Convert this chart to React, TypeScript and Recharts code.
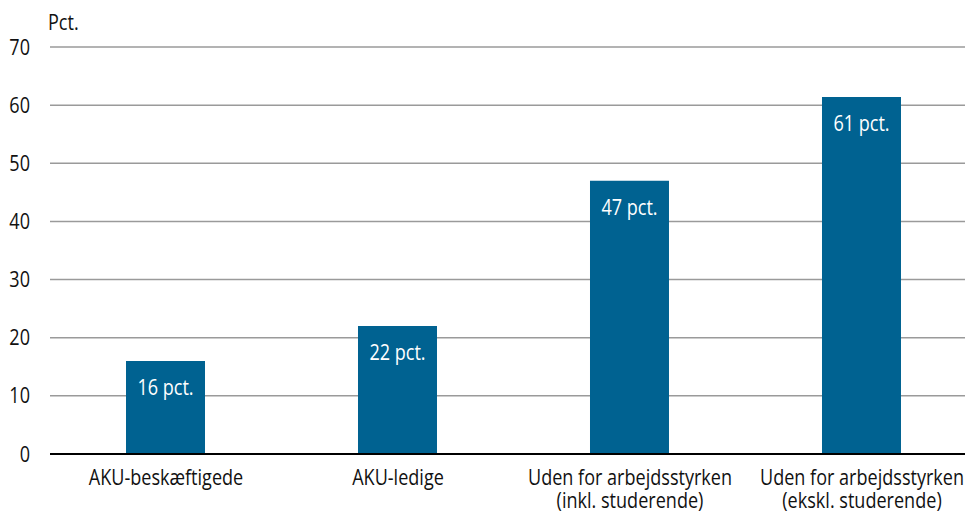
import { BarChart, Bar, XAxis, YAxis, CartesianGrid, LabelList } from 'recharts';

// Categories and values
const categories = [
  ['AKU-beskæftigede'],
  ['AKU-ledige'],
  ['Uden for arbejdsstyrken', '(inkl. studerende)'],
  ['Uden for arbejdsstyrken', '(ekskl. studerende)'],
];
const values = [16, 22, 47, 61.4];
const yTicks = [0, 10, 20, 30, 40, 50, 60, 70];

const FONT = '"Open Sans", sans-serif';
const FONT_SIZE = 21;
// horizontal squeeze so Open Sans looks closer to the narrow original face
const SX = 0.86;
const BAR_COLOR = '#006291';
const TEXT_COLOR = '#111';

const data = values.map((v, i) => ({ idx: i, value: v }));

function Squeezed({ x, y, anchor, fill, children }: any) {
  return (
    <g transform={`translate(${x},${y}) scale(${SX},1)`}>
      <text x={0} y={0} textAnchor={anchor} fontFamily={FONT} fontSize={FONT_SIZE} fill={fill}>
        {children}
      </text>
    </g>
  );
}

function CategoryTick({ x, y, payload }: any) {
  const lines = categories[payload.value] || [];
  return (
    <g transform={`translate(${x},${y}) scale(${SX},1)`}>
      <text x={0} y={0} textAnchor="middle" fontFamily={FONT} fontSize={FONT_SIZE} fill={TEXT_COLOR}>
        {lines.map((line, i) => (
          <tspan key={i} x={0} dy={i === 0 ? 31 : 23}>
            {line}
          </tspan>
        ))}
      </text>
    </g>
  );
}

function ValueTick({ x, y, payload }: any) {
  return (
    <Squeezed x={x} y={y + 7.5} anchor="end" fill={TEXT_COLOR}>
      {payload.value}
    </Squeezed>
  );
}

function BarValueLabel({ x, y, width, value }: any) {
  return (
    <Squeezed x={Number(x) + Number(width) / 2} y={Number(y) + 34} anchor="middle" fill="#fff">
      {`${Math.round(Number(value))} pct.`}
    </Squeezed>
  );
}

export default function App() {
  return (
    <div style={{ position: 'absolute', left: 0, top: 0, width: 969, height: 513, background: '#fff' }}>
      <BarChart
        width={969}
        height={513}
        data={data}
        margin={{ top: 47, right: 4, bottom: 0, left: 0 }}
      >
        <CartesianGrid vertical={false} stroke="#9a9a9a" strokeWidth={1.5} />
        <XAxis
          type="number"
          dataKey="idx"
          domain={[-0.5, 3.444]}
          ticks={[0, 1, 2, 3]}
          interval={0}
          height={59}
          tickLine={false}
          axisLine={{ stroke: '#000', strokeWidth: 2 }}
          tick={<CategoryTick />}
          tickSize={0}
          tickMargin={0}
          allowDataOverflow
        />
        <YAxis
          width={50}
          domain={[0, 70]}
          ticks={yTicks}
          interval={0}
          axisLine={false}
          tickLine={false}
          tickSize={0}
          tickMargin={20}
          tick={<ValueTick />}
        />
        <Bar dataKey="value" fill={BAR_COLOR} barSize={79} isAnimationActive={false}>
          <LabelList dataKey="value" content={<BarValueLabel />} />
        </Bar>
      </BarChart>
      <svg
        width={120}
        height={40}
        style={{ position: 'absolute', left: 0, top: 0, pointerEvents: 'none' }}
      >
        <Squeezed x={48} y={30} anchor="start" fill={TEXT_COLOR}>
          Pct.
        </Squeezed>
      </svg>
    </div>
  );
}
